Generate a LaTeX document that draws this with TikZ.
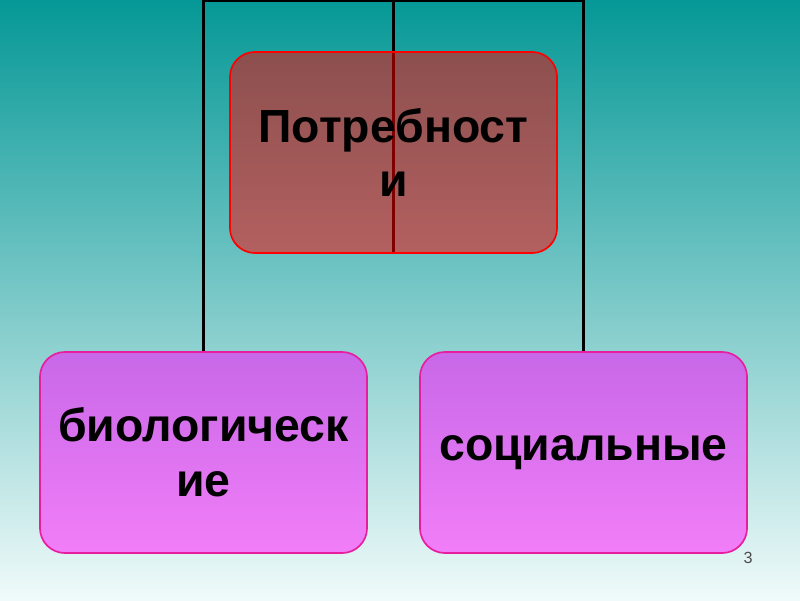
\documentclass[tikz,border=0pt]{standalone}
\usepackage{fontspec}
\setmainfont{Liberation Sans}
\usetikzlibrary{backgrounds}
\definecolor{bgtop}{RGB}{5,152,150}
\definecolor{bgmid}{RGB}{108,198,196}
\definecolor{bgbot}{RGB}{240,250,250}
\definecolor{kindtop}{RGB}{200,104,232}
\definecolor{kindbot}{RGB}{242,126,248}
\definecolor{kindedge}{RGB}{232,30,160}
\tikzset{
  boxtext/.style={align=center,font=\bfseries\fontsize{33}{39}\selectfont},
  needbox/.style={boxtext,draw=red,line width=1.2pt,fill=red,fill opacity=.5,
    text opacity=1,rounded corners=.625cm,minimum width=8.175cm,minimum height=5.025cm},
  kindbox/.style={boxtext,draw=kindedge,line width=1.2pt,top color=kindtop,
    bottom color=kindbot,rounded corners=.625cm,minimum width=8.175cm,minimum height=5.025cm},
  link/.style={black,line width=1.5pt}
}
\begin{document}
\begin{tikzpicture}[x=.025cm,y=.025cm]
    \useasboundingbox (0,0) rectangle (800,600);
    % boxes
    \node[needbox] (needs) at (393.5,447.5) {Потребност\\и};
    \node[kindbox] (bio) at (203.5,147.5) {биологическ\\ие};
    \node[kindbox] (soc) at (583.5,147.5) {социальные};
    \node[text=black!70,font=\fontsize{11.5}{13}\selectfont] (pagenum) at (748,42) {3};
    % background and links behind the boxes
    \begin{scope}[on background layer]
        \shade[top color=bgtop,middle color=bgmid,bottom color=bgbot]
            (0,0) rectangle (800,600);
        \coordinate (topbar) at (393.5,599);
        \draw[link] (bio.north) |- (topbar) -| (soc.north);
        \draw[link] (topbar) -- (needs.south);
    \end{scope}
\end{tikzpicture}
\end{document}
